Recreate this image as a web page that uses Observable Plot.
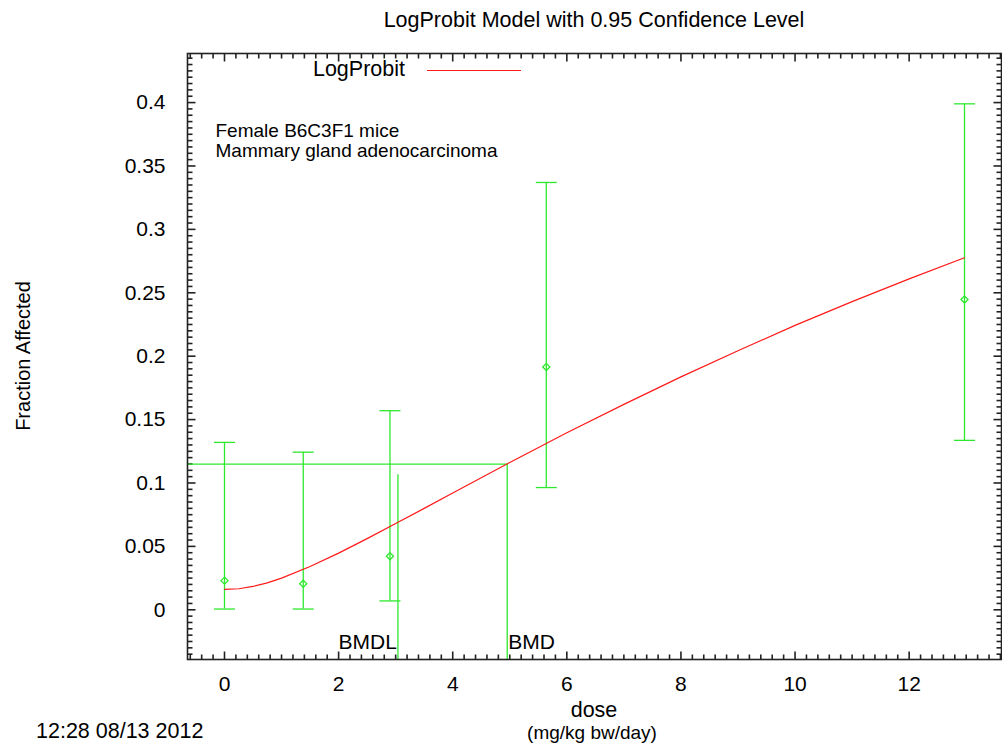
<!DOCTYPE html>
<html><head><meta charset="utf-8">
<script src="https://cdn.jsdelivr.net/npm/d3@7"></script>
<script src="https://cdn.jsdelivr.net/npm/@observablehq/plot@0.6"></script>
<style>body{margin:0;background:#fff;} svg{display:block}</style>
</head><body><div id="chart"></div>
<script>
// Observed data (dose, fraction affected, 95% CI)
const doses    = [0, 1.38, 2.9, 5.64, 12.97];
const observed = [0.023, 0.0205, 0.0422, 0.1915, 0.2447];
const lower    = [0.0006, 0.0006, 0.007, 0.0964, 0.1336];
const upper    = [0.132, 0.1243, 0.157, 0.337, 0.399];

// Fitted LogProbit curve
const curveDose = [0, 0.25, 0.5, 0.75, 1, 1.5, 2, 2.5, 3, 3.5, 4, 4.5, 5, 6, 7, 8, 9, 10, 11, 12, 12.97];
const curveFrac = [0.0161, 0.0166, 0.0184, 0.0212, 0.0250, 0.0341, 0.0447, 0.0561, 0.0680, 0.0800, 0.0921, 0.1042, 0.1162, 0.1396, 0.1620, 0.1837, 0.2043, 0.2243, 0.2430, 0.2610, 0.2776];

// Benchmark dose
const bmr = 0.1149, bmd = 4.955, bmdl = 3.04, bmdlTop = 0.1065;

// Ticks
const xMajor = [0, 2, 4, 6, 8, 10, 12];
const yMajor = [0, 0.05, 0.1, 0.15, 0.2, 0.25, 0.3, 0.35, 0.4];
const xDomain = [-0.6485, 13.6185];
const yDomain = [-0.0392, 0.4387];

const xMinor = d3.range(-6, 137, 2).map(v => v / 10).filter(v => Math.abs(v / 2 - Math.round(v / 2)) > 1e-6);
const yMinor = d3.range(-35, 440, 5).map(v => v / 1000).filter(v => Math.abs(v / 0.05 - Math.round(v / 0.05)) > 1e-6);

const obs = doses.map((d, i) => ({dose: d, p: observed[i], lo: lower[i], hi: upper[i]}));
const curve = curveDose.map((d, i) => ({dose: d, p: curveFrac[i]}));

const GREEN = "#2ee82e", RED = "#ff1a1a", FRAME = "#222";
const FONT = "'Liberation Sans', Arial, Helvetica, sans-serif";

const len = size => Math.sqrt(size / Math.PI);
const capSymbol = {draw(ctx, size) { const r = len(size); ctx.moveTo(-r, 0); ctx.lineTo(r, 0); }};
const tickUp    = {draw(ctx, size) { ctx.moveTo(0, 0); ctx.lineTo(0, -len(size)); }};
const tickDown  = {draw(ctx, size) { ctx.moveTo(0, 0); ctx.lineTo(0, len(size)); }};
const tickRight = {draw(ctx, size) { ctx.moveTo(0, 0); ctx.lineTo(len(size), 0); }};
const tickLeft  = {draw(ctx, size) { ctx.moveTo(0, 0); ctx.lineTo(-len(size), 0); }};

const tickMarks = (vals, axis, symbol, r) => axis === "x"
  ? Plot.dot(vals, {x: d => d, y: () => symbol === tickUp ? yDomain[0] : yDomain[1], symbol, r, stroke: FRAME, strokeWidth: 1.6, fill: "none", clip: false})
  : Plot.dot(vals, {y: d => d, x: () => symbol === tickRight ? xDomain[0] : xDomain[1], symbol, r, stroke: FRAME, strokeWidth: 1.6, fill: "none", clip: false});

const svg = Plot.plot({
  width: 1002, height: 747,
  marginLeft: 187, marginRight: 1, marginTop: 53, marginBottom: 88,
  style: {fontFamily: FONT, background: "#fff", color: "#000"},
  x: {domain: xDomain},
  y: {domain: yDomain},
  marks: [
    // tick marks (inward, mirrored)
    tickMarks(xMajor, "x", tickUp, 8), tickMarks(xMinor, "x", tickUp, 5),
    tickMarks(xMajor, "x", tickDown, 8), tickMarks(xMinor, "x", tickDown, 5),
    tickMarks(yMajor, "y", tickRight, 8), tickMarks(yMinor, "y", tickRight, 5),
    tickMarks(yMajor, "y", tickLeft, 8), tickMarks(yMinor, "y", tickLeft, 5),
    // tick labels
    Plot.axisX(xMajor, {anchor: "bottom", tickSize: 0, tickPadding: 17, fontSize: 21, label: null}),
    Plot.axisY(yMajor, {anchor: "left", tickSize: 0, tickPadding: 22, fontSize: 21, label: null,
      tickFormat: d => String(+d.toFixed(2))}),
    // BMD / BMDL lines
    Plot.ruleY([bmr], {x1: xDomain[0], x2: bmd, stroke: GREEN, strokeWidth: 1.3}),
    Plot.ruleX([bmd], {y1: yDomain[0], y2: bmr, stroke: GREEN, strokeWidth: 1.3}),
    Plot.ruleX([bmdl], {y1: yDomain[0], y2: bmdlTop, stroke: GREEN, strokeWidth: 1.3}),
    // error bars
    Plot.ruleX(obs, {x: "dose", y1: "lo", y2: "hi", stroke: GREEN, strokeWidth: 1.3}),
    Plot.dot(obs, {x: "dose", y: "lo", symbol: capSymbol, r: 10.5, stroke: GREEN, strokeWidth: 1.3, fill: "none"}),
    Plot.dot(obs, {x: "dose", y: "hi", symbol: capSymbol, r: 10.5, stroke: GREEN, strokeWidth: 1.3, fill: "none"}),
    Plot.dot(obs, {x: "dose", y: "p", symbol: "diamond2", r: 3.2, stroke: GREEN, strokeWidth: 1.3, fill: "none"}),
    // fitted curve
    Plot.line(curve, {x: "dose", y: "p", stroke: RED, strokeWidth: 1.2}),
    // labels
    Plot.text([bmdl], {x: d => d, frameAnchor: "bottom", text: () => "BMDL", textAnchor: "end", lineAnchor: "bottom", dy: -11, dx: -1, fontSize: 21, fill: "#000"}),
    Plot.text([bmd], {x: d => d, frameAnchor: "bottom", text: () => "BMD", textAnchor: "start", lineAnchor: "bottom", dy: -11, dx: 1, fontSize: 21, fill: "#000"}),
    Plot.text(["Female B6C3F1 mice\nMammary gland adenocarcinoma"], {frameAnchor: "top-left", text: d => d, textAnchor: "start", lineAnchor: "top", lineHeight: 1.08, dx: 28, dy: 68.5, fontSize: 19, fill: "#000"}),
    Plot.frame({stroke: FRAME, strokeWidth: 1.6})
  ]
});

const s = d3.select(svg);
const addText = (x, y, txt, size, anchor = "middle", transform = null) => {
  const t = s.append("text").attr("x", x).attr("y", y).attr("font-size", size)
    .attr("font-family", FONT).attr("text-anchor", anchor).attr("fill", "#000").text(txt);
  if (transform) t.attr("transform", transform).attr("x", 0).attr("y", 0);
  return t;
};
addText(594, 27, "LogProbit Model with 0.95 Confidence Level", 21.5);
addText(0, 0, "Fraction Affected", 20, "middle", "translate(30,356) rotate(-90)");
addText(594, 717, "dose", 21.5);
addText(592, 739, "(mg/kg bw/day)", 19);
addText(36, 738, "12:28 08/13 2012", 21.5, "start");
// legend
addText(405, 76, "LogProbit", 21.5, "end");
s.append("line").attr("x1", 427).attr("x2", 521).attr("y1", 70.5).attr("y2", 70.5)
  .attr("stroke", RED).attr("stroke-width", 1.2);

document.getElementById("chart").appendChild(svg);
</script>
</body></html>
